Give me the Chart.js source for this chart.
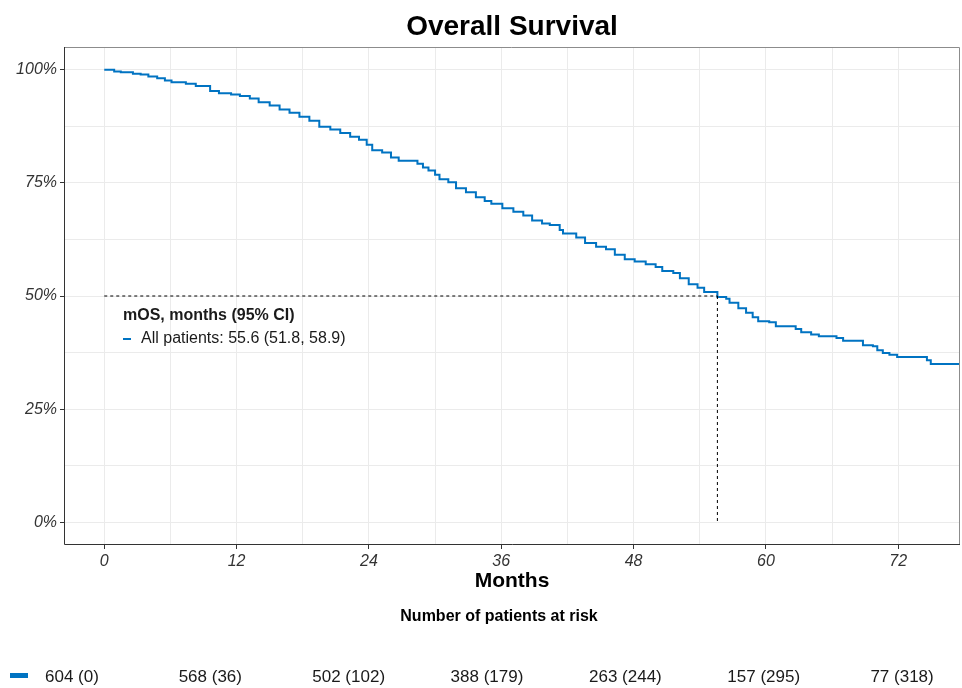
<!DOCTYPE html>
<html>
<head>
<meta charset="utf-8">
<title>Overall Survival</title>
<script src="https://cdn.jsdelivr.net/npm/chart.js@4.4.1/dist/chart.umd.min.js"></script>
<style>
  html, body { margin: 0; padding: 0; background: #fff; }
  #wrap { position: relative; width: 962px; height: 688px; }
  #km { position: absolute; left: 0; top: 0; }
  #risk { position: absolute; left: 0; top: 600px; }
</style>
</head>
<body>
<div id="wrap">
  <canvas id="km" width="962" height="600"></canvas>
  <canvas id="risk" width="962" height="88"></canvas>
</div>
<script>
// Kaplan-Meier steps: month of drop, survival (%) after it
const months = [0, 0.9, 1.5, 2.6, 3.3, 4.0, 4.8, 5.5, 6.1, 7.4, 8.3, 9.6, 10.4, 11.5, 12.3, 13.2, 14.0, 15.0,
  15.9, 16.8, 17.7, 18.6, 19.5, 20.5, 21.4, 22.3, 23.1, 23.8, 24.3, 25.2, 26.0, 26.7, 28.4, 28.9, 29.4, 30.0,
  30.4, 31.2, 31.9, 32.8, 33.7, 34.5, 35.1, 36.1, 37.1, 38.0, 38.8, 39.7, 40.4, 41.3, 41.6, 42.8, 43.6, 44.6,
  45.5, 46.3, 47.2, 48.1, 49.1, 50.0, 50.6, 51.6, 52.2, 53.0, 53.8, 54.4, 55.6, 56.4, 56.7, 57.5, 58.2, 58.8,
  59.3, 60.3, 60.9, 62.7, 63.2, 64.1, 64.8, 66.4, 67.0, 68.8, 69.7, 70.1, 70.6, 71.2, 71.9, 74.6, 74.95, 77.6];
const survival = [100, 99.6, 99.4, 99.1, 98.9, 98.5, 98.1, 97.6, 97.2, 96.9, 96.4, 95.3, 94.8, 94.5, 94.2, 93.6, 92.8, 92.1,
  91.2, 90.5, 89.6, 88.7, 87.4, 86.8, 86.0, 85.2, 84.5, 83.4, 82.2, 81.7, 80.6, 79.9, 79.2, 78.4, 77.7, 76.8,
  75.8, 75.1, 73.8, 72.9, 71.8, 71.0, 70.4, 69.4, 68.6, 67.8, 66.7, 66.0, 65.7, 64.6, 63.8, 62.9, 61.7, 60.9,
  60.3, 59.1, 58.1, 57.6, 57.0, 56.4, 55.5, 55.1, 53.9, 52.6, 51.8, 50.9, 49.8, 49.4, 48.5, 47.3, 46.3, 45.3,
  44.4, 44.2, 43.3, 42.7, 42.0, 41.5, 41.1, 40.7, 40.1, 39.1, 38.9, 38.0, 37.4, 37.0, 36.5, 35.8, 35.0, 35.0];

const medianOS = 55.6;
const medianCI = [51.8, 58.9];

const xGrid = [0, 6, 12, 18, 24, 30, 36, 42, 48, 54, 60, 66, 72];
const yGrid = [0, 12.5, 25, 37.5, 50, 62.5, 75, 87.5, 100];

const riskTimes = [0, 12, 24, 36, 48, 60, 72];
const atRisk = [604, 568, 502, 388, 263, 157, 77];
const censored = [0, 36, 102, 179, 244, 295, 318];

const BLUE = '#0073C2';
const FONT = "'Liberation Sans', Arial, sans-serif";
Chart.defaults.font.family = FONT;
Chart.defaults.color = '#333';

const kmPoints = months.map((m, i) => ({ x: m, y: survival[i] }));

// title, panel border, median legend
const kmDecor = {
  id: 'kmDecor',
  afterDraw(chart) {
    const { ctx, chartArea: a } = chart;
    ctx.save();
    // panel border: gray top/right, dark left/bottom
    ctx.lineWidth = 1;
    ctx.strokeStyle = '#8c8c8c';
    ctx.beginPath();
    ctx.moveTo(a.left, a.top + 0.5); ctx.lineTo(a.right - 0.5, a.top + 0.5); ctx.lineTo(a.right - 0.5, a.bottom);
    ctx.stroke();
    ctx.strokeStyle = '#333';
    ctx.beginPath();
    ctx.moveTo(a.left + 0.5, a.top); ctx.lineTo(a.left + 0.5, a.bottom - 0.5); ctx.lineTo(a.right, a.bottom - 0.5);
    ctx.stroke();

    // title
    ctx.fillStyle = '#000';
    ctx.font = 'bold 28px ' + FONT;
    ctx.textAlign = 'center';
    ctx.textBaseline = 'middle';
    ctx.fillText('Overall Survival', (a.left + a.right) / 2, 27);

    // median legend
    ctx.textAlign = 'left';
    ctx.fillStyle = '#1a1a1a';
    ctx.font = 'bold 16px ' + FONT;
    ctx.fillText('mOS, months (95% CI)', 123, 316);
    ctx.font = '16px ' + FONT;
    ctx.fillText('All patients: ' + medianOS + ' (' + medianCI[0] + ', ' + medianCI[1] + ')', 141, 339);
    ctx.strokeStyle = BLUE;
    ctx.lineWidth = 2;
    ctx.beginPath();
    ctx.moveTo(123, 339); ctx.lineTo(131, 339);
    ctx.stroke();
    ctx.restore();
  }
};

new Chart(document.getElementById('km'), {
  type: 'line',
  data: {
    datasets: [
      {
        data: [{ x: 0, y: 50 }, { x: medianOS, y: 50 }],
        borderColor: '#000', borderWidth: 1, borderDash: [3, 3], pointRadius: 0,
      },
      {
        data: [{ x: medianOS, y: 50 }, { x: medianOS, y: 0 }],
        borderColor: '#000', borderWidth: 1, borderDash: [3, 3], pointRadius: 0,
      },
      {
        data: kmPoints,
        stepped: true,
        borderColor: BLUE, borderWidth: 2, pointRadius: 0,
      },
    ],
  },
  options: {
    responsive: false,
    animation: false,
    devicePixelRatio: 1,
    layout: { padding: { top: 47, right: 2, left: 0, bottom: 0 } },
    plugins: { legend: { display: false }, tooltip: { enabled: false } },
    scales: {
      x: {
        type: 'linear', min: -3.65, max: 77.6,
        afterBuildTicks: (s) => { s.ticks = xGrid.map(v => ({ value: v })); },
        afterFit: (s) => { s.height = 55; },
        ticks: {
          font: { size: 16, style: 'italic' }, color: '#333', padding: 3, maxRotation: 0,
          callback: (v) => (v % 12 === 0 ? String(v) : ''),
        },
        grid: {
          color: '#EBEBEB', lineWidth: 1, tickLength: 4,
          tickColor: (c) => (c.tick && c.tick.value % 12 === 0 ? '#333' : 'rgba(0,0,0,0)'),
        },
        border: { display: false },
        title: { display: true, text: 'Months', font: { size: 21, weight: 'bold' }, color: '#000', padding: { top: 0, bottom: 6 } },
      },
      y: {
        min: -5, max: 105,
        afterBuildTicks: (s) => { s.ticks = yGrid.map(v => ({ value: v })); },
        afterFit: (s) => { s.width = 64; },
        ticks: {
          font: { size: 16, style: 'italic' }, color: '#333', padding: 3,
          callback: (v) => (v % 25 === 0 ? v + '%' : ''),
        },
        grid: {
          color: '#EBEBEB', lineWidth: 1, tickLength: 4,
          tickColor: (c) => (c.tick && c.tick.value % 25 === 0 ? '#333' : 'rgba(0,0,0,0)'),
        },
        border: { display: false },
      },
    },
  },
  plugins: [kmDecor],
});

// risk table
const riskDecor = {
  id: 'riskDecor',
  afterDraw(chart) {
    const { ctx, chartArea: a } = chart;
    const sx = chart.scales.x;
    ctx.save();
    ctx.fillStyle = '#000';
    ctx.textAlign = 'center';
    ctx.textBaseline = 'middle';
    ctx.font = 'bold 16px ' + FONT;
    ctx.fillText('Number of patients at risk', (a.left + a.right) / 2 + 3, 17);
    ctx.font = '17px ' + FONT;
    ctx.fillStyle = '#1a1a1a';
    riskTimes.forEach((t, i) => {
      ctx.fillText(atRisk[i] + ' (' + censored[i] + ')', sx.getPixelForValue(t), 77);
    });
    ctx.fillStyle = BLUE;
    ctx.fillRect(10, 73, 18, 5);
    ctx.restore();
  }
};

new Chart(document.getElementById('risk'), {
  type: 'scatter',
  data: { datasets: [{ data: riskTimes.map(t => ({ x: t, y: 0 })), pointRadius: 0 }] },
  options: {
    responsive: false,
    animation: false,
    devicePixelRatio: 1,
    layout: { padding: { left: 30, right: 0, top: 0, bottom: 0 } },
    plugins: { legend: { display: false }, tooltip: { enabled: false } },
    scales: {
      x: { type: 'linear', min: -3.64, max: 77.2, display: false },
      y: { min: -1, max: 1, display: false },
    },
  },
  plugins: [riskDecor],
});
</script>
</body>
</html>
